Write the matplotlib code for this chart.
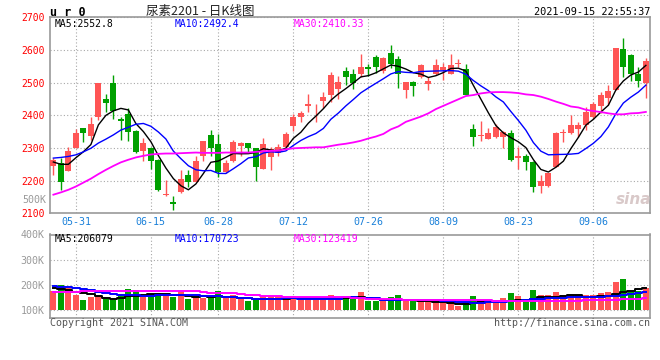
import matplotlib
matplotlib.use('Agg')
import matplotlib.pyplot as plt
import numpy as np
import pandas as pd

# ---------------- data ----------------
dates = [d.strftime('%m-%d') for d in pd.bdate_range('2021-05-26', '2021-09-15')
         if d.strftime('%m-%d') != '06-14']
tick_dates = ['05-31', '06-15', '06-28', '07-12', '07-26', '08-09', '08-23', '09-06']

open_ = [2245, 2253, 2231, 2301, 2361, 2337, 2396, 2450, 2498, 2390,
         2404, 2353, 2292, 2301, 2264, 2155, 2135, 2164, 2216, 2197,
         2274, 2340, 2313, 2225, 2259, 2306, 2315, 2299, 2237, 2271,
         2284, 2304, 2366, 2394, 2427, 2409, 2445, 2462, 2480, 2535,
         2527, 2527, 2547, 2578, 2537, 2590, 2571, 2476, 2501, 2516,
         2495, 2526, 2539, 2526, 2557, 2541, 2357, 2337, 2327, 2333,
         2333, 2345, 2269, 2274, 2258, 2185, 2185, 2243, 2345, 2347,
         2357, 2371, 2396, 2429, 2452, 2478, 2602, 2585, 2527, 2498]
close = [2264, 2197, 2291, 2345, 2345, 2374, 2498, 2437, 2414, 2383,
         2350, 2289, 2315, 2259, 2170, 2160, 2127, 2206, 2197, 2259,
         2320, 2299, 2225, 2255, 2317, 2315, 2301, 2243, 2313, 2296,
         2302, 2343, 2394, 2406, 2435, 2411, 2456, 2524, 2503, 2516,
         2498, 2547, 2543, 2547, 2576, 2557, 2527, 2501, 2491, 2554,
         2506, 2554, 2549, 2554, 2559, 2462, 2335, 2339, 2345, 2363,
         2350, 2262, 2274, 2257, 2179, 2199, 2223, 2347, 2350, 2371,
         2371, 2411, 2435, 2462, 2475, 2605, 2549, 2527, 2506, 2567]
high = [2269, 2269, 2304, 2357, 2362, 2396, 2500, 2465, 2522, 2394,
        2422, 2355, 2330, 2302, 2266, 2202, 2152, 2233, 2233, 2274,
        2321, 2355, 2343, 2262, 2323, 2319, 2316, 2300, 2330, 2302,
        2313, 2350, 2404, 2414, 2465, 2435, 2470, 2534, 2520, 2547,
        2541, 2588, 2557, 2585, 2577, 2615, 2582, 2503, 2506, 2557,
        2518, 2571, 2559, 2588, 2571, 2557, 2374, 2384, 2360, 2374,
        2352, 2355, 2304, 2282, 2259, 2218, 2224, 2348, 2358, 2401,
        2378, 2425, 2442, 2470, 2493, 2606, 2636, 2588, 2547, 2574]
low = [2218, 2172, 2229, 2299, 2317, 2325, 2386, 2411, 2388, 2323,
       2320, 2286, 2259, 2235, 2168, 2152, 2109, 2163, 2180, 2196,
       2261, 2274, 2210, 2224, 2258, 2276, 2289, 2200, 2236, 2233,
       2274, 2299, 2353, 2381, 2411, 2378, 2422, 2442, 2449, 2493,
       2480, 2518, 2520, 2529, 2529, 2544, 2483, 2452, 2460, 2515,
       2476, 2524, 2508, 2525, 2547, 2461, 2306, 2320, 2326, 2332,
       2299, 2259, 2235, 2233, 2164, 2162, 2182, 2242, 2317, 2343,
       2333, 2355, 2388, 2406, 2432, 2477, 2518, 2506, 2486, 2452]

ma5 = [2257, 2250, 2250, 2270, 2288.4, 2310.4, 2370.6, 2399.8, 2413.6, 2421.2,
       2416.4, 2374.6, 2350.2, 2319.2, 2276.6, 2238.6, 2206.2, 2184.4, 2172.0, 2189.8,
       2221.8, 2256.2, 2260.0, 2271.6, 2283.2, 2282.2, 2282.6, 2286.2, 2297.8, 2293.6,
       2291.0, 2299.4, 2329.6, 2348.2, 2376.0, 2397.6, 2420.2, 2446.2, 2465.6, 2481.8,
       2499.4, 2517.6, 2521.4, 2530.2, 2542.2, 2554.0, 2550.0, 2541.6, 2530.4, 2526.0,
       2515.8, 2521.2, 2530.8, 2543.4, 2544.2, 2535.4, 2491.6, 2449.4, 2407.6, 2368.6,
       2346.2, 2331.6, 2318.8, 2301.2, 2264.4, 2234.2, 2226.4, 2241.0, 2259.6, 2298.0,
       2332.4, 2370.0, 2387.6, 2410.0, 2430.8, 2477.6, 2505.2, 2523.6, 2532.4, 2552.8]
ma10 = [2269, 2271, 2274, 2279, 2288, 2299, 2315, 2327, 2340, 2354.8,
        2363.4, 2372.6, 2375.0, 2366.4, 2348.9, 2327.5, 2290.4, 2267.3, 2245.6, 2233.2,
        2230.2, 2231.2, 2222.2, 2221.8, 2236.5, 2252.0, 2269.4, 2273.1, 2284.7, 2288.4,
        2286.6, 2291.0, 2307.9, 2323.0, 2334.8, 2344.3, 2359.8, 2387.9, 2406.9, 2428.9,
        2448.5, 2468.9, 2483.8, 2497.9, 2512.0, 2526.7, 2533.8, 2531.5, 2530.3, 2534.1,
        2534.9, 2535.6, 2536.2, 2536.9, 2535.1, 2525.6, 2506.4, 2490.1, 2475.5, 2456.4,
        2440.8, 2411.6, 2384.1, 2354.4, 2316.5, 2290.2, 2279.0, 2279.9, 2280.4, 2281.2,
        2283.3, 2298.2, 2314.3, 2334.8, 2364.4, 2405.0, 2437.6, 2455.6, 2471.2, 2492.4]
ma30 = [2157, 2164, 2172, 2182, 2194, 2206, 2220, 2233, 2245, 2256,
        2264, 2271, 2276, 2280, 2282, 2283, 2283, 2284, 2285, 2286,
        2285, 2285, 2285, 2286, 2286, 2286, 2286, 2288, 2290, 2291,
        2292, 2296, 2299, 2300, 2301, 2302, 2302, 2306, 2310, 2313,
        2317, 2322, 2329, 2335, 2343, 2357, 2366, 2380, 2388, 2396,
        2406, 2419, 2429, 2439, 2449, 2459, 2462, 2467, 2470, 2471,
        2471, 2470, 2468, 2464, 2462, 2457, 2450, 2442, 2435, 2427,
        2424, 2417, 2413, 2410, 2406, 2403, 2403, 2406, 2407, 2410.33]

# volume in the chart's K-scale
volume = [176, 202, 189, 162, 143, 153, 159, 147, 143, 166,
          186, 182, 159, 166, 169, 166, 152, 176, 147, 156,
          149, 152, 178, 149, 160, 145, 139, 145, 156, 156,
          156, 152, 156, 149, 152, 152, 152, 162, 152, 147,
          152, 173, 136, 136, 136, 153, 160, 143, 143, 143,
          143, 136, 130, 136, 119, 134, 156, 136, 136, 139,
          149, 169, 156, 136, 180, 160, 160, 173, 160, 160,
          160, 160, 160, 169, 172, 213, 225, 173, 176, 189]
vol_ma5 = [189, 186, 180, 173, 167, 163, 156, 149, 145, 149,
           156, 156, 160, 163, 165, 163, 160, 159, 156, 153,
           156, 153, 156, 153, 152, 149, 149, 147, 145, 145,
           145, 147, 149, 149, 149, 149, 149, 149, 147, 149,
           152, 153, 149, 147, 143, 143, 140, 140, 140, 136,
           136, 132, 132, 130, 127, 127, 130, 132, 136, 136,
           136, 138, 140, 143, 147, 152, 153, 153, 156, 160,
           159, 153, 153, 155, 158, 165, 172, 178, 184, 190]
vol_ma10 = [196, 192, 192, 189, 186, 180, 173, 167, 163, 160,
            159, 159, 156, 156, 159, 159, 159, 159, 159, 159,
            156, 156, 156, 152, 152, 149, 149, 147, 147, 147,
            147, 149, 149, 147, 147, 147, 147, 147, 147, 152,
            152, 149, 149, 149, 143, 143, 143, 143, 143, 140,
            140, 140, 139, 136, 132, 132, 130, 130, 132, 132,
            132, 136, 139, 143, 145, 145, 149, 149, 149, 152,
            153, 153, 153, 153, 156, 156, 160, 165, 169, 173]
vol_ma30 = [172, 173, 173, 174, 176, 176, 178, 178, 178, 178,
            178, 178, 178, 178, 178, 178, 178, 178, 178, 176,
            172, 169, 169, 169, 169, 165, 160, 160, 156, 156,
            156, 152, 152, 152, 152, 152, 152, 152, 152, 152,
            149, 149, 147, 147, 147, 147, 147, 143, 143, 143,
            143, 143, 143, 140, 140, 140, 140, 140, 140, 139,
            139, 139, 139, 139, 139, 139, 139, 139, 139, 139,
            139, 140, 140, 143, 143, 143, 147, 147, 147, 149]

price_ticks = [2100, 2200, 2300, 2400, 2500, 2600, 2700]
vol_ticks = [100, 200, 300, 400]
vol_tick_labels = ['100K', '200K', '300K', '400K']
vol_floor = 100
vol_ma_labels = ['MA5:206079', 'MA10:170723', 'MA30:123419']

# ---------------- style ----------------
plt.rcParams['font.family'] = ['DejaVu Sans Mono', 'Noto Sans CJK SC']
RED = '#ff5555'
GREEN = '#00a000'
GRID = dict(color='#a8a8a8', linestyle=(0, (1, 2)), linewidth=0.8)
SPINE = '#9a9a9a'

W, H = 660, 360
fig = plt.figure(figsize=(6.6, 3.6), dpi=100)
fig.patch.set_facecolor('white')


def ftext(x, y, s, **kw):
    fig.text(x / W, 1 - y / H, s, **kw)


x = np.arange(len(close))
o = np.array(open_, float)
c = np.array(close, float)
hi = np.array(high, float)
lo = np.array(low, float)
up = c >= o
colors = np.where(up, RED, GREEN)
tick_pos = [dates.index(d) for d in tick_dates]

# ---------------- main panel ----------------
ax = fig.add_axes([50 / W, 1 - 213.3 / H, 600 / W, (213.3 - 17.3) / H])
ax.set_xlim(-0.45, 79.55)
ax.set_ylim(2100, 2700)
ax.set_yticks(price_ticks)
ax.set_yticklabels([str(t) for t in price_ticks])
ax.set_xticks(tick_pos)
ax.set_xticklabels(tick_dates)
ax.tick_params(axis='y', length=0, pad=4, labelcolor='#ff0000', labelsize=7)
ax.tick_params(axis='x', length=0, pad=3, labelcolor='#1a80d9', labelsize=7.2)
ax.grid(True, **GRID)
ax.set_axisbelow(True)
for s in ax.spines.values():
    s.set_color(SPINE)
    s.set_linewidth(1.2)

ax.vlines(x, lo, hi, colors=colors, linewidth=1.0, zorder=2)
body = np.maximum(np.abs(c - o), 1.5)
ax.bar(x, body, bottom=np.minimum(o, c), width=0.8, color=colors,
       linewidth=0, zorder=3)
ax.plot(x, ma5, color='black', linewidth=1.0, zorder=4)
ax.plot(x, ma10, color='#0000ff', linewidth=1.0, zorder=4)
ax.plot(x, ma30, color='#ff00ff', linewidth=1.3, zorder=4)

# ---------------- volume panel ----------------
ax2 = fig.add_axes([50 / W, 1 - 318 / H, 600 / W, (318 - 234.5) / H])
ax2.set_xlim(-0.45, 79.55)
ax2.set_ylim(70, 400)
ax2.set_yticks(vol_ticks)
ax2.set_yticklabels(vol_tick_labels)
ax2.set_xticks(tick_pos)
ax2.set_xticklabels([])
ax2.tick_params(axis='y', length=0, pad=4, labelcolor='#9a9a9a', labelsize=7.2)
ax2.tick_params(axis='x', length=0)
ax2.grid(True, **GRID)
ax2.set_axisbelow(True)
for s in ax2.spines.values():
    s.set_color(SPINE)
    s.set_linewidth(1.2)
vol = np.array(volume, float)
ax2.bar(x, vol - vol_floor, bottom=vol_floor, width=0.8, color=colors,
        linewidth=0, zorder=3)
ax2.plot(x, vol_ma5, color='black', linewidth=1.4, drawstyle='steps-mid', zorder=4)
ax2.plot(x, vol_ma10, color='#0000ff', linewidth=1.4, drawstyle='steps-mid', zorder=4)
ax2.plot(x, vol_ma30, color='#ff00ff', linewidth=1.4, drawstyle='steps-mid', zorder=4)

# ---------------- texts ----------------
ftext(50, 12, 'u r 0', fontsize=8.5, fontweight='bold', ha='left', va='center', color='black')
ftext(200, 11, '尿素2201 - 日K线图', fontsize=9, ha='center', va='center', color='#222222',
      family=['Noto Sans CJK SC', 'DejaVu Sans'])
ftext(650, 12, '2021-09-15 22:55:37', fontsize=7.4, ha='right', va='center', color='black')

ftext(55, 24, 'MA5:%.1f' % ma5[-1], fontsize=7, ha='left', va='center', color='black')
ftext(175, 24, 'MA10:%.1f' % ma10[-1], fontsize=7, ha='left', va='center', color='#0000ff')
ftext(294, 24, 'MA30:%.2f' % ma30[-1], fontsize=7, ha='left', va='center', color='#ff00ff')

ftext(55, 238.5, vol_ma_labels[0], fontsize=7, ha='left', va='center', color='black')
ftext(175, 238.5, vol_ma_labels[1], fontsize=7, ha='left', va='center', color='#0000ff')
ftext(294, 238.5, vol_ma_labels[2], fontsize=7, ha='left', va='center', color='#ff00ff')

ftext(46, 200, '500K', fontsize=7.2, ha='right', va='center', color='#9a9a9a')
ftext(50, 323, 'Copyright 2021 SINA.COM', fontsize=7.2, ha='left', va='center', color='#555555')
ftext(650, 323, 'http://finance.sina.com.cn', fontsize=7.2, ha='right', va='center', color='#555555')
ftext(634, 200, 'sina', fontsize=11, fontstyle='italic', fontweight='bold', ha='center',
      va='center', color='#d9c9c9', family=['DejaVu Sans'])

fig.savefig('out.png', dpi=100)
